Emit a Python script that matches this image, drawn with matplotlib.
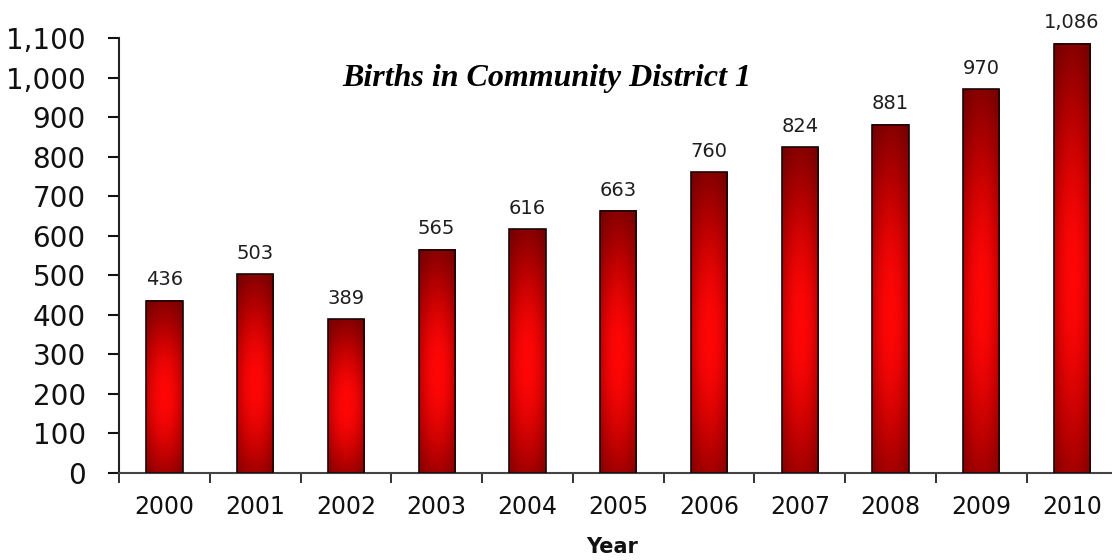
import numpy as np
import matplotlib
matplotlib.use("Agg")
import matplotlib.pyplot as plt
from matplotlib.colors import LinearSegmentedColormap
from matplotlib.patches import Rectangle
from matplotlib.ticker import FuncFormatter, FixedLocator

# data
years = ["2000", "2001", "2002", "2003", "2004", "2005",
         "2006", "2007", "2008", "2009", "2010"]
births = [436, 503, 389, 565, 616, 663, 760, 824, 881, 970, 1086]
yticks = [0, 100, 200, 300, 400, 500, 600, 700, 800, 900, 1000, 1100]

fig = plt.figure(figsize=(11.12, 5.6), dpi=100)
ax = fig.add_axes([119/1112, 87/560, 1 - 119/1112, (473 - 38)/560])

# red "glow" gradient used to fill every bar
cmap = LinearSegmentedColormap.from_list("glow", ["#5e0000", "#b00000", "#ff0606"])
t = np.linspace(0, 1, 200)[:, None]          # bottom -> top
s = np.linspace(0, 1, 40)[None, :]           # left -> right
vert = np.exp(-((t - 0.45) / 0.55) ** 2)
horiz = 1 - 0.35 * np.abs(2 * s - 1) ** 2
grad = vert * horiz

bw = 0.40
for i, v in enumerate(births):
    x0 = i - bw / 2
    ax.imshow(grad, cmap=cmap, vmin=0.15, vmax=1, origin="lower", aspect="auto",
              extent=(x0, x0 + bw, 0, v), interpolation="bilinear", zorder=2)
    ax.add_patch(Rectangle((x0, 0), bw, v, fill=False, edgecolor="#1a0505",
                           linewidth=1.2, zorder=3))
    ax.annotate(f"{v:,}", (i, v), xytext=(0, 8), textcoords="offset points",
                ha="center", va="bottom", fontsize=14, color="#1e1e1e")

ax.set_xlim(-0.5, 10.44)
ax.set_ylim(0, 1100)

ax.spines["top"].set_visible(False)
ax.spines["right"].set_visible(False)
ax.spines["left"].set_linewidth(1.5)
ax.spines["bottom"].set_linewidth(1.5)
ax.spines["left"].set_color("#222222")
ax.spines["bottom"].set_color("#444444")

ax.yaxis.set_major_locator(FixedLocator(yticks))
ax.yaxis.set_major_formatter(FuncFormatter(lambda y, p: f"{int(y):,}"))
ax.tick_params(axis="y", length=8, width=1.5, labelsize=20, pad=16, colors="#111111")

# ticks between the categories, labels at the category centres
ax.set_xticks(np.arange(len(years)) - 0.5)
ax.set_xticklabels([])
ax.set_xticks(np.arange(len(years)), minor=True)
ax.set_xticklabels(years, minor=True)
ax.tick_params(axis="x", which="major", length=7, width=1.3, colors="#222222")
ax.tick_params(axis="x", which="minor", length=0, labelsize=17, pad=16, labelcolor="#111111")

fig.text(547/1112, 1 - 79/560, "Births in Community District 1",
         family="Liberation Serif", style="italic", weight="bold",
         fontsize=23, ha="center", va="center")
fig.text(612/1112, 1 - 547/560, "Year", weight="bold", fontsize=15,
         ha="center", va="center", color="#111111")

fig.savefig("out.png", dpi=100)
